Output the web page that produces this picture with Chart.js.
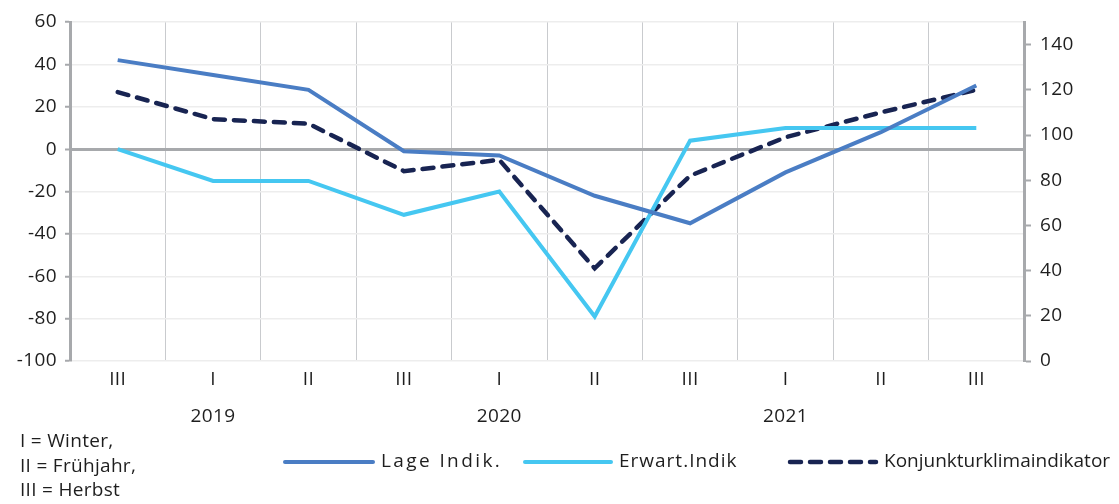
<!DOCTYPE html>
<html lang="de">
<head>
<meta charset="utf-8">
<script src="https://cdn.jsdelivr.net/npm/chart.js@4/dist/chart.umd.min.js"></script>
<style>
  html, body { margin: 0; padding: 0; background: #fff; }
  #wrap { position: relative; width: 1119px; height: 504px; }
  #note {
    position: absolute; left: 20px; top: 428px;
    font: 19px "Open Sans", sans-serif; line-height: 24.5px; color: #1e1e1e;
    letter-spacing: 0.3px;
  }
</style>
</head>
<body>
<div id="wrap">
  <canvas id="chart" width="1119" height="504"></canvas>
  <div id="note">I = Winter,<br>II = Frühjahr,<br>III = Herbst</div>
</div>
<script>
// Quartale (Saison) und Jahr darunter
const seasons = ['III', 'I', 'II', 'III', 'I', 'II', 'III', 'I', 'II', 'III'];
const years = ['', '2019', '', '', '2020', '', '', '2021', '', ''];

// Indikatoren (linke Achse: Saldo, rechte Achse: Index)
const lageIndik = [42, 35, 28, -1, -3, -22, -35, -11, 8, 30];
const erwartIndik = [0, -15, -15, -31, -20, -79, 4, 10, 10, 10];
const konjunkturklima = [119, 107, 105, 84, 89, 41, 82, 99, 110, 120];

const FONT = '"Open Sans", sans-serif';
const TEXT = '#1e1e1e';
const AXIS_GREY = '#A7A9AC';

const labels = seasons.map((s, i) => years[i] ? [s, '', years[i]] : [s]);

// Legende unten, mit festen Positionen
const legendItems = [
  { x: 283, w: 92, text: 'Lage Indik.', spacing: '2.4px' },
  { x: 523, w: 90, text: 'Erwart.Indik', spacing: '1px' },
  { x: 788, w: 90, text: 'Konjunkturklimaindikator', spacing: '0px' }
];

const bottomLegend = {
  id: 'bottomLegend',
  afterDraw(chart) {
    const ctx = chart.ctx;
    const y = 462;
    ctx.save();
    chart.data.datasets.forEach((ds, i) => {
      const it = legendItems[i];
      ctx.beginPath();
      ctx.strokeStyle = ds.borderColor;
      ctx.lineWidth = ds.borderWidth;
      ctx.lineCap = 'round';
      ctx.setLineDash(ds.borderDash || []);
      ctx.moveTo(it.x + 2, y);
      ctx.lineTo(it.x + it.w - 2, y);
      ctx.stroke();
      ctx.setLineDash([]);
      ctx.fillStyle = TEXT;
      ctx.font = '19px ' + FONT;
      ctx.letterSpacing = it.spacing;
      ctx.textBaseline = 'middle';
      ctx.fillText(it.text, it.x + it.w + 6, y);
    });
    ctx.restore();
  }
};

// etwas Sperrung für alle Achsenbeschriftungen
const textSpacing = {
  id: 'textSpacing',
  beforeDraw(chart) { chart.ctx.letterSpacing = '0.4px'; }
};

new Chart(document.getElementById('chart'), {
  type: 'line',
  data: {
    labels: labels,
    datasets: [
      {
        label: 'Lage Indik.',
        data: lageIndik,
        yAxisID: 'y',
        borderColor: '#4A7DC4',
        borderWidth: 4,
        pointRadius: 0,
        tension: 0
      },
      {
        label: 'Erwart.Indik',
        data: erwartIndik,
        yAxisID: 'y',
        borderColor: '#45C7F1',
        borderWidth: 4,
        pointRadius: 0,
        tension: 0
      },
      {
        label: 'Konjunkturklimaindikator',
        data: konjunkturklima,
        yAxisID: 'y2',
        borderColor: '#182452',
        borderWidth: 4.5,
        borderDash: [11, 9],
        borderCapStyle: 'round',
        pointRadius: 0,
        tension: 0
      }
    ]
  },
  options: {
    responsive: false,
    animation: false,
    layout: { padding: { top: 22, left: 0, right: 0, bottom: 0 } },
    plugins: {
      legend: { display: false },
      tooltip: { enabled: false }
    },
    scales: {
      x: {
        offset: true,
        grid: {
          offset: true,
          drawTicks: false,
          color: '#C9CBCE',
          lineWidth: 1
        },
        border: { display: false },
        ticks: {
          color: TEXT,
          font: { family: FONT, size: 19, lineHeight: 0.98 },
          padding: 9,
          maxRotation: 0,
          autoSkip: false
        },
        afterFit(scale) { scale.height = 143; }
      },
      y: {
        position: 'left',
        min: -100,
        max: 60,
        ticks: {
          stepSize: 20,
          color: TEXT,
          font: { family: FONT, size: 19 },
          padding: 8
        },
        grid: {
          color: ctx => ctx.tick && ctx.tick.value === 0 ? AXIS_GREY : '#EDEDED',
          lineWidth: ctx => ctx.tick && ctx.tick.value === 0 ? 3 : 1.5,
          tickColor: AXIS_GREY,
          tickLength: 5,
          tickWidth: 2
        },
        border: { color: AXIS_GREY, width: 3 },
        afterFit(scale) { scale.width = 70; }
      },
      y2: {
        position: 'right',
        min: 0,
        max: 150,
        ticks: {
          stepSize: 20,
          color: TEXT,
          font: { family: FONT, size: 19 },
          padding: 9
        },
        afterBuildTicks(scale) {
          scale.ticks = scale.ticks.filter(t => t.value <= 140);
        },
        grid: {
          drawOnChartArea: false,
          tickColor: AXIS_GREY,
          tickLength: 7,
          tickWidth: 2
        },
        border: { color: AXIS_GREY, width: 3 },
        afterFit(scale) { scale.width = 95; }
      }
    }
  },
  plugins: [textSpacing, bottomLegend]
});
</script>
</body>
</html>
